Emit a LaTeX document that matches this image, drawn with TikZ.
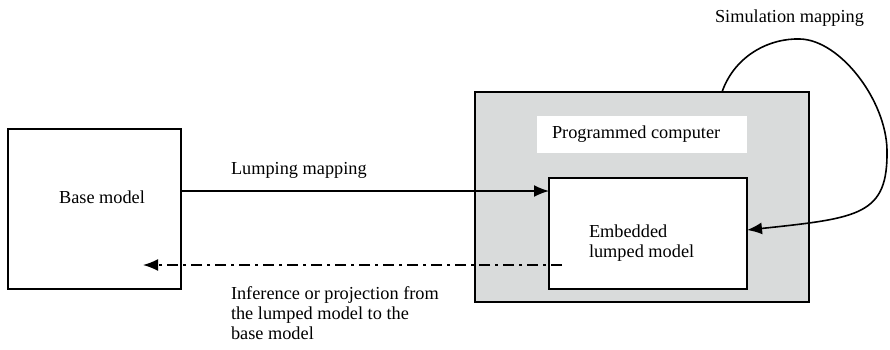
\documentclass[tikz,border=0pt]{standalone}
\usepackage{fontspec}
\setmainfont{Liberation Serif}
\usetikzlibrary{arrows.meta}
\definecolor{boxgray}{RGB}{217,219,219}
\begin{document}
\begin{tikzpicture}[x=1pt,y=-1pt,
  every node/.style={font=\fontsize{18.3}{20}\selectfont, inner sep=0pt, outer sep=0pt},
  frame/.style={draw, line width=1.7pt, rectangle},
  lbl/.style={anchor=west, align=left},
  tip/.style={-{Latex[length=15pt,width=12pt]}},
  conn/.style={line width=1.6pt}]
\useasboundingbox (0,0) rectangle (890,349);
% boxes
\node[frame, minimum width=173, minimum height=160] (base) at (94.5,209) {};
\node[frame, fill=boxgray, minimum width=334, minimum height=210] (comp) at (642,197) {};
\node[fill=white, minimum width=210, minimum height=37] (prog) at (642,134.5) {};
\node[frame, fill=white, minimum width=198, minimum height=111] (emb) at (648,233.5) {};
% texts
\node (tbase) at (102,197) {Base model};
\node[lbl] (tprog) at (552,134.5) {Programmed computer};
\node[lbl] (temb) at (589,243) {Embedded\\lumped model};
\node[lbl] (tlump) at (231,170) {Lumping mapping};
\node[lbl] (tsim) at (715,18) {Simulation mapping};
\node[lbl, anchor=north west] (tinf) at (231,287) {Inference or projection from\\the lumped model to the\\base model};
% lumping arrow
\draw[conn, tip] (base.east |- 0,191) -- (emb.west |- 0,191);
% inference arrow
\coordinate (dstart) at (562,265);
\coordinate (dend) at (143,265);
\draw[conn, tip, dash pattern=on 11pt off 5pt on 3pt off 5pt] (dstart) -- (dend);
% simulation loop
\coordinate (s0) at (comp.north -| 722,0);
\coordinate (s1) at (800,39);
\coordinate (s2) at (887,150);
\coordinate (s3) at (emb.east |- 0,230);
\draw[conn, tip] (s0) .. controls (735,55) and (770,38) .. (s1)
  .. controls (840,40) and (886,100) .. (s2)
  .. controls (888,215) and (860,218) .. (s3);
\end{tikzpicture}
\end{document}
